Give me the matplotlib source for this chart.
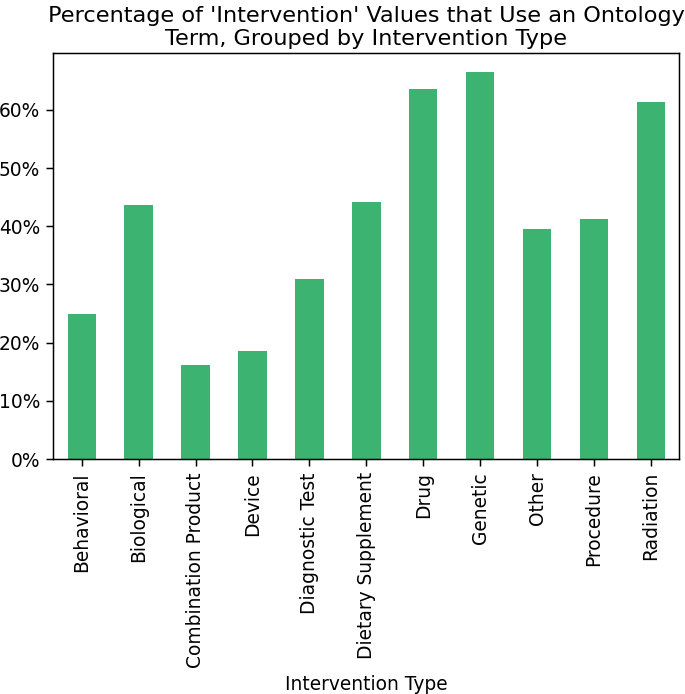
import numpy
import matplotlib
matplotlib.use('Agg')
import matplotlib.pyplot
from matplotlib.ticker import PercentFormatter

#%% data
intervention_types = ['Behavioral', 'Biological', 'Combination Product', 'Device',
                      'Diagnostic Test', 'Dietary Supplement', 'Drug', 'Genetic',
                      'Other', 'Procedure', 'Radiation']
pct_ontology = [24.9, 43.6, 16.2, 18.5, 30.9, 44.2, 63.5, 66.5, 39.5, 41.3, 61.4]

#%% plot
DPI = 134
fig = matplotlib.pyplot.figure(figsize=(685 / DPI, 694 / DPI), dpi=DPI)
ax = fig.add_axes([0.0778, 0.3386, 0.9139, 0.5855])
x = numpy.arange(len(intervention_types))
ax.bar(x, pct_ontology, width=0.5, color='mediumseagreen')
ax.set_xlim(-0.5, len(intervention_types) - 0.5)
ax.set_xticks(x)
ax.set_xticklabels(intervention_types, rotation=90)
ax.yaxis.set_major_formatter(PercentFormatter(100, decimals=0))
ax.set_xlabel('Intervention Type')
ax.set_title("Percentage of 'Intervention' Values that Use an Ontology\nTerm, Grouped by Intervention Type",
             pad=4)
fig.savefig('out.png', dpi=DPI)
